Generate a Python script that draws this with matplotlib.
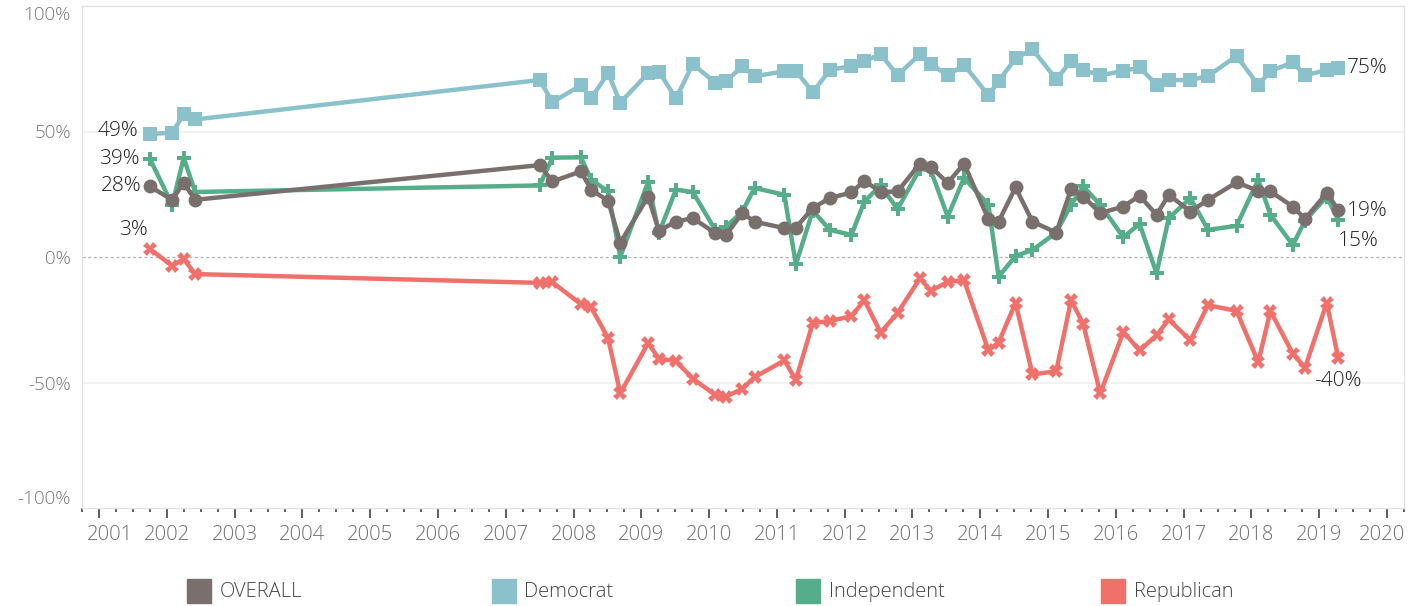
import numpy as np
import matplotlib
matplotlib.use("Agg")
import matplotlib.pyplot as plt
from matplotlib.patches import Rectangle
import matplotlib.transforms as mtransforms

plt.rcParams['font.family'] = ['Open Sans', 'DejaVu Sans']
plt.rcParams['font.weight'] = 'light'

# poll dates (decimal years), shared by all groups
dates = [2001.75, 2002.08, 2002.25, 2002.42, 2007.50, 2007.69,
         2008.11, 2008.26, 2008.51, 2008.69, 2009.10, 2009.26, 2009.51, 2009.76,
         2010.09, 2010.25, 2010.49, 2010.67, 2011.11, 2011.28, 2011.53, 2011.78,
         2012.10, 2012.29, 2012.53, 2012.78, 2013.11, 2013.27, 2013.52, 2013.76,
         2014.12, 2014.27, 2014.52, 2014.77, 2015.12, 2015.34, 2015.52, 2015.77,
         2016.11, 2016.35, 2016.60, 2016.78, 2017.10, 2017.36, 2017.78,
         2018.10, 2018.28, 2018.61, 2018.79, 2019.11, 2019.28]

overall = [28.1, 22.8, 29.5, 22.8, 36.6, 30.1, 34.1, 26.8, 22.4, 5.7, 24.1, 10.5,
           14.1, 15.5, 9.5, 8.8, 17.5, 14.1, 11.5, 11.7, 19.5, 23.5, 25.7, 30.4,
           25.9, 26.1, 37.2, 35.9, 29.5, 37.2, 15.1, 14.1, 27.7, 14.1, 9.7, 27.1,
           24.1, 17.5, 20.1, 24.4, 16.8, 24.8, 18.1, 22.8, 29.7, 26.4, 26.1, 20.1,
           15.2, 25.5, 18.8]
democrat = [49, 49.5, 56.8, 54.8, 70.5, 61.7, 68.4, 63.3, 73.2, 61.5, 73.2, 73.9,
            63.2, 76.8, 69.5, 70.1, 75.9, 72, 74, 74.1, 65.7, 74.5, 76.1, 78.1,
            80.8, 72.4, 80.8, 76.8, 72.4, 76.6, 64.4, 70.1, 79.1, 82.8, 70.8, 78.1,
            74.5, 72.4, 74.1, 75.5, 68.7, 70.5, 70.5, 72.1, 80.1, 68.5, 74.1, 77.5,
            72.5, 74.4, 75.2]
independent = [39.2, 20.8, 39.5, 25.9, 28.5, 39.6, 39.7, 30.8, 26.1, 0.1, 29.9, 9.5,
               26.8, 25.9, 10.8, 12.1, 18.1, 27.5, 24.8, -2.9, 18.5, 10.8, 8.8, 22.1,
               28.5, 19.1, 35.2, 34.5, 16.1, 31.5, 20.8, -7.9, 0.4, 2.8, 9.7, 20.8,
               28.1, 20.8, 7.9, 13.2, -6.5, 15.5, 23.5, 10.8, 12.4, 30.8, 16.8, 4.8,
               14.5, 24.0, 14.8]
republican = [3.2, -3.5, -0.8, -6.8, -10.3, -10.1, -18.8, -20.1, -32.3, -54.3, -34.3,
              -40.5, -41.5, -48.5, -54.9, -55.6, -52.5, -47.9, -41.2, -48.9, -26.3,
              -25.5, -23.6, -17.2, -30.1, -22.3, -8.5, -13.5, -9.9, -9.2, -37.2,
              -34.1, -18.3, -46.8, -45.5, -17.2, -26.8, -54.3, -29.9, -37.2, -31.2,
              -24.9, -33.2, -19.2, -21.5, -41.9, -21.5, -38.5, -44.1, -18.3, -40.1]

names = ['OVERALL', 'Democrat', 'Independent', 'Republican']
colors = {'OVERALL': '#79706e', 'Democrat': '#8bc1ca',
          'Independent': '#55ad89', 'Republican': '#f0716b'}
markers = {'OVERALL': 'o', 'Democrat': 's', 'Independent': 'P', 'Republican': 'X'}
series = {'OVERALL': overall, 'Democrat': democrat,
          'Independent': independent, 'Republican': republican}

W, H = 1418, 606
fig = plt.figure(figsize=(W / 100, H / 100), dpi=100)
ax = fig.add_axes([82 / W, (H - 508) / H, (1404 - 82) / W, (508 - 6) / H])

# draw order: overall on top
for name in ['Democrat', 'Republican', 'Independent', 'OVERALL']:
    ax.plot(dates, series[name], color=colors[name], lw=3.2, marker=markers[name],
            ms=10 if name != 'Republican' else 10, mew=0, solid_joinstyle='round',
            zorder=3)

ax.set_xlim(2000.78, 2020.24)
ax.set_ylim(-100, 100)

for s in ax.spines.values():
    s.set_color('#e3e3e3')
    s.set_linewidth(1)

ax.axhline(0, color='#b5b5b5', lw=0.9, ls=(0, (2.5, 2)), zorder=1)
for g in (50, -50):
    ax.axhline(g, color='#f0f0f0', lw=1.2, zorder=1)

ax.set_yticks([-100, -50, 0, 50, 100])
ax.set_yticklabels(['-100%', '-50%', '0%', '50%', '100%'])
ax.tick_params(axis='y', length=0, pad=8, labelsize=13.6, labelcolor='#777777')
labs = ax.get_yticklabels()
labs[0].set_va('bottom')
labs[-1].set_va('top')

years = list(range(2001, 2021))
ax.set_xticks(years)
ax.set_xticklabels([str(y) for y in years])
ax.set_xticks(np.arange(2000.75, 2020.3, 0.25), minor=True)
ax.tick_params(axis='x', which='major', length=7, width=1.1, color='#333333',
               pad=5, labelsize=14.6, labelcolor='#707070')
ax.tick_params(axis='x', which='minor', length=3, width=1.1, color='#333333')
xl = ax.get_xticklabels()
for lab, dx in ((xl[0], 11), (xl[-1], -5)):
    lab.set_transform(lab.get_transform() +
                      mtransforms.ScaledTranslation(dx / 100, 0, fig.dpi_scale_trans))

# start / end value labels
txt = dict(fontsize=15, color='#222222')
d0, d1 = dates[0], dates[-1]
ax.annotate(f"{round(democrat[0])}%", (d0, democrat[0]), xytext=(-8, 2),
            textcoords='offset points', ha='right', va='center', **txt)
ax.annotate(f"{round(independent[0])}%", (d0, independent[0]), xytext=(-7, 0),
            textcoords='offset points', ha='right', va='center', **txt)
ax.annotate(f"{round(overall[0])}%", (d0, overall[0]), xytext=(-6, 0),
            textcoords='offset points', ha='right', va='center', **txt)
ax.annotate(f"{round(republican[0])}%", (d0, republican[0]), xytext=(-1.5, 14),
            textcoords='offset points', ha='right', va='center', **txt)
ax.annotate(f"{round(democrat[-1])}%", (d1, democrat[-1]), xytext=(6, 0),
            textcoords='offset points', ha='left', va='center', **txt)
ax.annotate(f"{round(overall[-1])}%", (d1, overall[-1]), xytext=(6, -1),
            textcoords='offset points', ha='left', va='center', **txt)
ax.annotate(f"{round(independent[-1])}%", (d1, independent[-1]), xytext=(0, -15.5),
            textcoords='offset points', ha='left', va='center', **txt)
ax.annotate(f"{round(republican[-1])}%", (d1, republican[-1]), xytext=(0, -16.5),
            textcoords='offset points', ha='center', va='center', **txt)

# legend row at the bottom
for i, name in enumerate(names):
    x0 = 187 + i * 304.5
    fig.patches.append(Rectangle((x0 / W, (H - 603) / H), 24 / W, 24 / H,
                                 transform=fig.transFigure, color=colors[name]))
    fig.text((x0 + 33) / W, (H - 592) / H, name, ha='left', va='center',
             fontsize=14.5, color='#444444')

fig.savefig('out.png', dpi=100)
